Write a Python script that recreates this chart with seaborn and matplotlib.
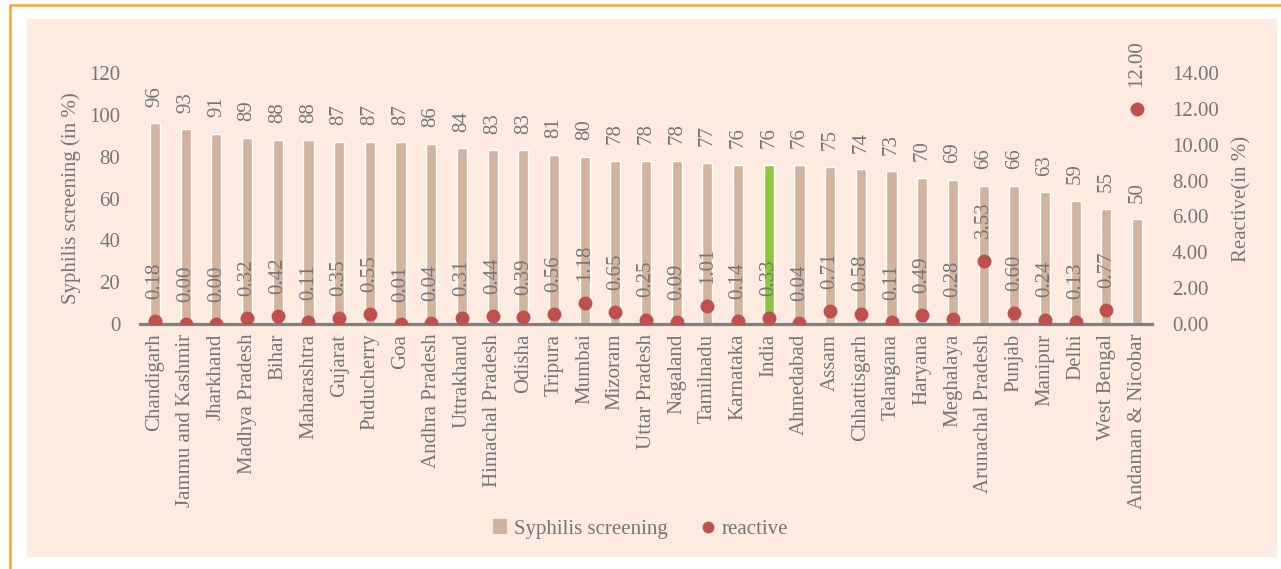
import numpy as np
import matplotlib
matplotlib.use("Agg")
import matplotlib.pyplot as plt
import seaborn as sns
from matplotlib.patches import Rectangle, Patch
from matplotlib.lines import Line2D

sns.set_theme(style="white")
plt.rcParams["font.family"] = ["Liberation Serif", "DejaVu Serif"]
plt.rcParams["font.size"] = 15

states = ["Chandigarh", "Jammu and Kashmir", "Jharkhand", "Madhya Pradesh", "Bihar",
          "Maharashtra", "Gujarat", "Puducherry", "Goa", "Andhra Pradesh", "Uttrakhand",
          "Himachal Pradesh", "Odisha", "Tripura", "Mumbai", "Mizoram", "Uttar Pradesh",
          "Nagaland", "Tamilnadu", "Karnataka", "India", "Ahmedabad", "Assam",
          "Chhattisgarh", "Telangana", "Haryana", "Meghalaya", "Arunachal Pradesh",
          "Punjab", "Manipur", "Delhi", "West Bengal", "Andaman & Nicobar"]
screening = [96, 93, 91, 89, 88, 88, 87, 87, 87, 86, 84, 83, 83, 81, 80, 78, 78,
             78, 77, 76, 76, 76, 75, 74, 73, 70, 69, 66, 66, 63, 59, 55, 50]
reactive = [0.18, 0.00, 0.00, 0.32, 0.42, 0.11, 0.35, 0.55, 0.01, 0.04, 0.31,
            0.44, 0.39, 0.56, 1.18, 0.65, 0.25, 0.09, 1.01, 0.14, 0.33, 0.04,
            0.71, 0.58, 0.11, 0.49, 0.28, 3.53, 0.60, 0.24, 0.13, 0.77, 12.00]

bar_col = "#D3B39D"
hi_col = "#8DC63F"
dot_col = "#C0504D"
txt_col = "#767676"
panel_col = "#FDEBE1"

palette = {s: (hi_col if s == "India" else bar_col) for s in states}

fig = plt.figure(figsize=(12.81, 5.69), dpi=100)
fig.patch.set_facecolor("white")

# pink panel + orange frame
fig.patches.append(Rectangle((27 / 1281, 1 - 557 / 569), 1250 / 1281, 538 / 569,
                             transform=fig.transFigure, facecolor=panel_col,
                             edgecolor="none", zorder=-5))
fig.lines.append(Line2D([10 / 1281, 1], [1 - 5 / 569, 1 - 5 / 569],
                        transform=fig.transFigure, color="#F5A530", lw=1.8, zorder=-4))
fig.lines.append(Line2D([10 / 1281, 10 / 1281], [0, 1 - 5 / 569],
                        transform=fig.transFigure, color="#F5A530", lw=1.8, zorder=-4))

ax = fig.add_axes([139.7 / 1281, 1 - 324 / 569, 1012.7 / 1281, 251 / 569])
ax.set_facecolor("none")

sns.barplot(x=states, y=screening, hue=states, palette=palette, legend=False,
            width=0.33, saturation=1, ax=ax)
ax.set_ylim(0, 120)
ax.set_xlim(-0.5, len(states) - 0.5)
ax.set_yticks(range(0, 121, 20))

for i, v in enumerate(screening):
    ax.annotate(f"{v}", (i, v), xytext=(0, 12), textcoords="offset points",
                rotation=90, ha="center", va="bottom", color=txt_col, fontsize=15)

ax2 = ax.twinx()
sns.stripplot(x=states, y=reactive, jitter=False, color=dot_col, size=10,
              linewidth=0, ax=ax2, zorder=5)
ax2.set_ylim(0, 14)
ax2.set_xlim(-0.5, len(states) - 0.5)
ax2.set_yticks(np.arange(0, 14.1, 2))
ax2.set_yticklabels([f"{t:.2f}" for t in np.arange(0, 14.1, 2)])

for i, r in enumerate(reactive):
    ax2.annotate(f"{r:.2f}", (i, r), xytext=(0, 16), textcoords="offset points",
                 rotation=90, ha="center", va="bottom", color=txt_col, fontsize=15)

ax.set_xticks(range(len(states)))
ax.set_xticklabels(states, rotation=90)
for a in (ax, ax2):
    for s in a.spines.values():
        s.set_visible(False)
    a.tick_params(length=0, colors=txt_col, labelsize=15)
ax.spines["bottom"].set_visible(True)
ax.spines["bottom"].set_color("#808080")
ax.spines["bottom"].set_linewidth(2.3)
ax.spines["bottom"].set_zorder(3)
ax.tick_params(axis="x", pad=7)
ax.tick_params(axis="y", pad=14)
ax2.tick_params(axis="y", pad=14)

ax.set_xlabel("")
ax.set_ylabel("Syphilis screening (in %)", color=txt_col, fontsize=15, labelpad=6)
ax2.set_ylabel("Reactive(in %)", color=txt_col, fontsize=15, labelpad=10)

handles = [Patch(facecolor=bar_col, edgecolor="none", label="Syphilis screening"),
           Line2D([], [], marker="o", color="none", markerfacecolor=dot_col,
                  markeredgecolor="none", markersize=8.5, label="reactive")]
fig.legend(handles=handles, loc="center", bbox_to_anchor=(0.5, 1 - 529 / 569),
           ncol=2, frameon=False, fontsize=15, labelcolor=txt_col,
           handlelength=0.7, handleheight=0.7, handletextpad=0.3, columnspacing=1.6)

fig.savefig("out.png", dpi=100, facecolor="white")
